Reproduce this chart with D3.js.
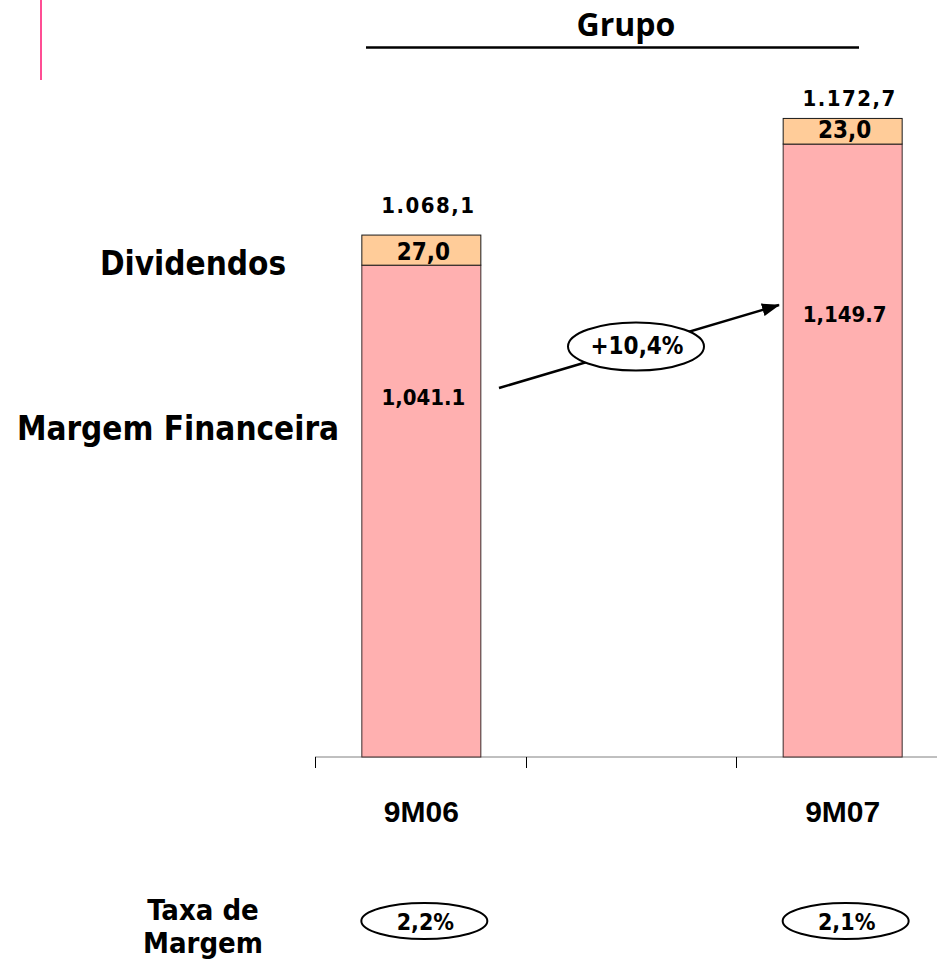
<!DOCTYPE html>
<html>
<head>
<meta charset="utf-8">
<script src="https://cdn.jsdelivr.net/npm/d3@7"></script>
<style>
  body { margin: 0; background: #fff; }
  svg text { font-family: "DejaVu Sans Condensed", "DejaVu Sans", sans-serif; font-weight: bold; fill: #000; }
</style>
</head>
<body>
<div id="chart"></div>
<script>
// data
const categories = ["9M06", "", "9M07"];
const periods = ["9M06", "9M07"];
const margemFinanceira = [1041.1, 1149.7];
const dividendos = [27.0, 23.0];
const totals = ["1.068,1", "1.172,7"];
const margemLabels = ["1,041.1", "1,149.7"];
const dividendLabels = ["27,0", "23,0"];
const taxaMargem = ["2,2%", "2,1%"];
const growthLabel = "+10,4%";

const width = 937, height = 959;

const svg = d3.select("#chart")
  .append("svg")
  .attr("width", width)
  .attr("height", height);

const x = d3.scaleBand()
  .domain(categories)
  .range([316, 948]);

const y = d3.scaleLinear()
  .domain([600, 1200])
  .range([757, 88]);

const barW = 119;
const cx = p => x(p) + x.bandwidth() / 2;

// pink marker top-left
svg.append("line")
  .attr("x1", 41).attr("x2", 41)
  .attr("y1", 0).attr("y2", 80)
  .attr("stroke", "#ff4d94")
  .attr("stroke-width", 2);

// title
svg.append("text")
  .attr("x", 626).attr("y", 36)
  .attr("text-anchor", "middle")
  .style("font-family", "'Open Sans', sans-serif")
  .style("font-size", "32px")
  .text("Grupo");

svg.append("line")
  .attr("x1", 366).attr("x2", 859)
  .attr("y1", 47.5).attr("y2", 47.5)
  .attr("stroke", "#000")
  .attr("stroke-width", 2.5);

// x axis
const axisG = svg.append("g")
  .attr("transform", "translate(0,757)")
  .call(d3.axisBottom(x).tickSize(0).tickFormat(""));
axisG.select(".domain").attr("stroke", "#808080").attr("d", "M315,0H937");

axisG.selectAll(".bound")
  .data(categories)
  .enter()
  .append("line")
  .attr("class", "bound")
  .attr("x1", d => Math.round(x(d)) - 0.5).attr("x2", d => Math.round(x(d)) - 0.5)
  .attr("y1", 0).attr("y2", 11)
  .attr("stroke", "#000");

// bars
const bars = svg.selectAll(".bar")
  .data(periods)
  .enter()
  .append("g")
  .attr("class", "bar");

bars.append("rect")
  .attr("x", d => cx(d) - barW / 2)
  .attr("y", (d, i) => y(margemFinanceira[i]))
  .attr("width", barW)
  .attr("height", (d, i) => y(600) - y(margemFinanceira[i]))
  .attr("fill", "#ffb0b0")
  .attr("stroke", "#3a2a2a")
  .attr("stroke-width", 1);

bars.append("rect")
  .attr("x", d => cx(d) - barW / 2)
  .attr("y", (d, i) => y(margemFinanceira[i] + dividendos[i]))
  .attr("width", barW)
  .attr("height", (d, i) => y(margemFinanceira[i]) - y(margemFinanceira[i] + dividendos[i]))
  .attr("fill", "#ffcc99")
  .attr("stroke", "#1a1a1a")
  .attr("stroke-width", 1);

// labels
bars.append("text")
  .attr("x", d => cx(d) + 7)
  .attr("y", (d, i) => y(margemFinanceira[i] + dividendos[i]) - (i === 0 ? 22 : 12))
  .attr("text-anchor", "middle")
  .style("font-size", "22px")
  .style("letter-spacing", "1.5px")
  .text((d, i) => totals[i]);

bars.append("text")
  .attr("x", d => cx(d) + 2)
  .attr("y", (d, i) => (y(margemFinanceira[i]) + y(margemFinanceira[i] + dividendos[i])) / 2 + (i === 0 ? 10 : 7))
  .attr("text-anchor", "middle")
  .style("font-size", "24px")
  .text((d, i) => dividendLabels[i]);

bars.append("text")
  .attr("x", d => cx(d) + 2)
  .attr("y", (d, i) => i === 0 ? 405 : 322)
  .attr("text-anchor", "middle")
  .style("font-size", "22px")
  .text((d, i) => margemLabels[i]);

// category labels
svg.selectAll(".cat")
  .data(periods)
  .enter()
  .append("text")
  .attr("class", "cat")
  .attr("x", d => cx(d))
  .attr("y", 822)
  .attr("text-anchor", "middle")
  .style("font-family", "'Liberation Sans Narrow', sans-serif")
  .style("font-size", "30px")
  .text(d => d);

// series names
svg.append("text")
  .attr("x", 193).attr("y", 275)
  .attr("text-anchor", "middle")
  .style("font-size", "33px")
  .text("Dividendos");

svg.append("text")
  .attr("x", 178).attr("y", 440)
  .attr("text-anchor", "middle")
  .style("font-size", "33px")
  .text("Margem Financeira");

// growth arrow
svg.append("defs").append("marker")
  .attr("id", "arrow")
  .attr("viewBox", "0 0 18 13")
  .attr("refX", 17).attr("refY", 6.5)
  .attr("markerUnits", "userSpaceOnUse")
  .attr("markerWidth", 18).attr("markerHeight", 13)
  .attr("orient", "auto")
  .append("path")
  .attr("d", "M0,0L18,6.5L0,13Z")
  .attr("fill", "#000");

svg.append("line")
  .attr("x1", 499).attr("y1", 388)
  .attr("x2", 779).attr("y2", 305)
  .attr("stroke", "#000")
  .attr("stroke-width", 2.5)
  .attr("marker-end", "url(#arrow)");

svg.append("ellipse")
  .attr("cx", 636).attr("cy", 346.5)
  .attr("rx", 68).attr("ry", 24)
  .attr("fill", "#fff")
  .attr("stroke", "#000")
  .attr("stroke-width", 2);

svg.append("text")
  .attr("x", 637).attr("y", 354)
  .attr("text-anchor", "middle")
  .style("font-size", "24px")
  .text(growthLabel);

// taxa de margem
svg.append("text")
  .attr("x", 203).attr("y", 920)
  .attr("text-anchor", "middle")
  .style("font-size", "29px")
  .text("Taxa de");
svg.append("text")
  .attr("x", 203).attr("y", 953)
  .attr("text-anchor", "middle")
  .style("font-size", "29px")
  .text("Margem");

const taxa = svg.selectAll(".taxa")
  .data(periods)
  .enter()
  .append("g")
  .attr("class", "taxa");

taxa.append("ellipse")
  .attr("cx", d => cx(d) + 3)
  .attr("cy", 921)
  .attr("rx", 63).attr("ry", 18)
  .attr("fill", "#fff")
  .attr("stroke", "#000")
  .attr("stroke-width", 2);

taxa.append("text")
  .attr("x", d => cx(d) + 4)
  .attr("y", 930)
  .attr("text-anchor", "middle")
  .style("font-size", "23px")
  .text((d, i) => taxaMargem[i]);
</script>
</body>
</html>
